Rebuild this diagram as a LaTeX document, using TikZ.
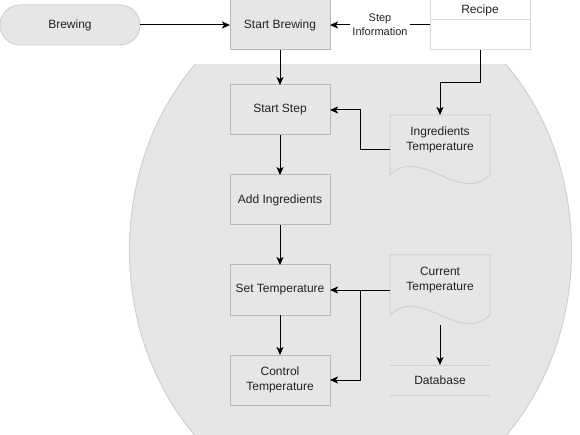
\documentclass[tikz,border=0pt]{standalone}
\usepackage{fontspec}
\setmainfont{Liberation Sans}
\usepackage{xcolor}
\definecolor{cFill}{HTML}{E6E6E6}
\definecolor{cEdge}{HTML}{B8B8B8}
\definecolor{cLight}{HTML}{D0D0D0}
\definecolor{cPale}{HTML}{DADADA}
\definecolor{cText}{HTML}{222222}
\usepackage{tikz}
\usetikzlibrary{positioning,arrows.meta,calc,backgrounds}
\tikzset{
  node-box/.style={draw=cEdge,line width=1pt,fill=cFill,minimum width=100pt,
    minimum height=50pt,align=center,inner sep=2pt,outer sep=0pt},
  node-term/.style={draw=cLight,line width=1pt,fill=cFill,rounded corners=20pt,
    minimum width=140pt,minimum height=40pt,outer sep=0pt},
  node-plain/.style={draw=cPale,line width=1pt,fill=white,minimum width=100pt,
    minimum height=50pt,outer sep=0pt},
  node-doc/.style={minimum width=100pt,minimum height=50pt,align=center,inner sep=2pt,
    outer sep=0pt},
  node-db/.style={minimum width=100pt,minimum height=30pt,inner sep=2pt,outer sep=0pt},
  % outlines drawn by hand behind the text nodes
  doc-line/.style={draw=cLight,line width=1pt,fill=cFill},
  region/.style={draw=cLight,line width=1pt,fill=cFill},
  arrow/.style={-{Stealth[length=8pt,width=7pt,inset=2pt]},line width=1pt,draw=black},
  step-label/.style={fill=white,align=center,inner sep=2pt,font=\fontsize{11}{14}\selectfont},
}
\newcommand{\docshape}[1]{%
  \begin{scope}[on background layer]
    \draw[doc-line] (#1.north west) -- (#1.north east) -- ($(#1.south east)+(0,10)$)
      .. controls +(-30,30) and +(30,-30) .. ($(#1.south west)+(0,10)$) -- cycle;
  \end{scope}}

\begin{document}
\begin{tikzpicture}[x=1pt,y=-1pt,node distance=40pt,
    font=\fontsize{12}{15}\selectfont,text=cText]
  \useasboundingbox (0,0) rectangle (580,435);
  % grey region behind the steps
  \begin{scope}[on background layer]
    \clip (0,65) rectangle (580,436);
    \draw[region] (350.5,250) ellipse [x radius=221pt,y radius=261pt];
  \end{scope}

  \node[node-term] (brewing) at (70,25) {Brewing};
  \node[node-box] (start-brew) at (280,25) {Start Brewing};
  \node[node-plain] (recipe) at (480,25) {};
  \node (recipe-title) at (480,10) {Recipe};
  \draw[draw=cPale,line width=1pt] ($(recipe.north west)+(0,20)$) -- ($(recipe.north east)+(0,20)$);

  \node[node-box,below=35pt of start-brew] (start-step) {Start Step};
  \node[node-box,below=of start-step]      (add-ingr)   {Add Ingredients};
  \node[node-box,below=of add-ingr]        (set-temp)   {Set Temperature};
  \node[node-box,below=of set-temp]        (ctrl-temp)  {Control\\Temperature};

  \node[node-doc] (ingr-doc) at (440,140) {Ingredients\\Temperature};
  \node[node-doc] (cur-doc)  at (440,280) {Current\\Temperature};
  \node[node-db]  (db)       at (440,380) {Database};
  \docshape{ingr-doc}
  \docshape{cur-doc}
  \draw[draw=cLight,line width=1pt] (db.north west) -- (db.north east)
    (db.south west) -- (db.south east);

  \coordinate (ingr-out)  at ($(ingr-doc.west)+(0,10)$);
  \coordinate (cur-out)   at ($(cur-doc.west)+(0,10)$);
  \coordinate (cur-split) at ($(cur-doc.west)+(-30,10)$);
  \coordinate (cur-down)  at ($(cur-doc.south)+(0,20)$);

  \draw[arrow] (brewing) -- (start-brew);
  \draw[arrow] (recipe) -- node[step-label]{Step\\Information} (start-brew);
  \draw[arrow] (start-brew) -- (start-step);
  \draw[arrow] (start-step) -- (add-ingr);
  \draw[arrow] (add-ingr) -- (set-temp);
  \draw[arrow] (set-temp) -- (ctrl-temp);
  \draw[arrow] (recipe.south) -- ++(0,33) -| (ingr-doc.north);
  \draw[arrow] (ingr-out) -- ++(-30,0) |- (start-step.east);
  \draw[arrow] (cur-out) -- (set-temp.east);
  \draw[arrow] (cur-split) |- (ctrl-temp.east);
  \draw[arrow] (cur-down) -- (db.north);
\end{tikzpicture}
\end{document}
